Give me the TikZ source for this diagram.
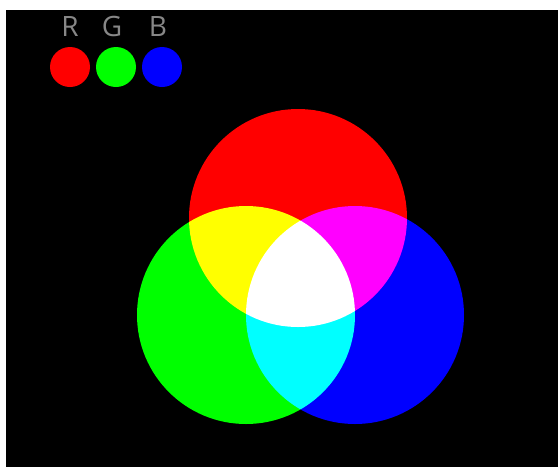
\documentclass[tikz,border=0pt]{standalone}
\usepackage{fontspec}
\setmainfont{Open Sans}
\definecolor{labelgray}{RGB}{135,135,135}
\tikzset{
  lamp/.style={circle, inner sep=0pt, minimum size=40pt},
  lbl/.style={text=labelgray, font=\fontsize{28}{28}\selectfont, inner sep=0pt, anchor=base}
}
\begin{document}
\begin{tikzpicture}[x=1pt,y=-1pt]
  \useasboundingbox (0,0) rectangle (558,467);
  \fill[white] (0,0) rectangle (558,467);
  \fill[black] (6,10) rectangle (558,467);
  % legend
  \node[lamp, fill={rgb,255:red,255;green,0;blue,0}] (lr) at (70,67) {};
  \node[lamp, fill={rgb,255:red,0;green,255;blue,0}] (lg) at (116,67) {};
  \node[lamp, fill={rgb,255:red,0;green,0;blue,255}] (lb) at (162,67) {};
  \node[lbl] (tr) at (70,36) {R};
  \node[lbl] (tg) at (112,36) {G};
  \node[lbl] (tb) at (158,36) {B};
  % additive mixing
  \begin{scope}[blend group=screen]
    \fill[red] (298,218) circle[radius=109];
    \fill[green] (246,315) circle[radius=109];
    \fill[blue] (355,315) circle[radius=109];
  \end{scope}
\end{tikzpicture}
\end{document}
